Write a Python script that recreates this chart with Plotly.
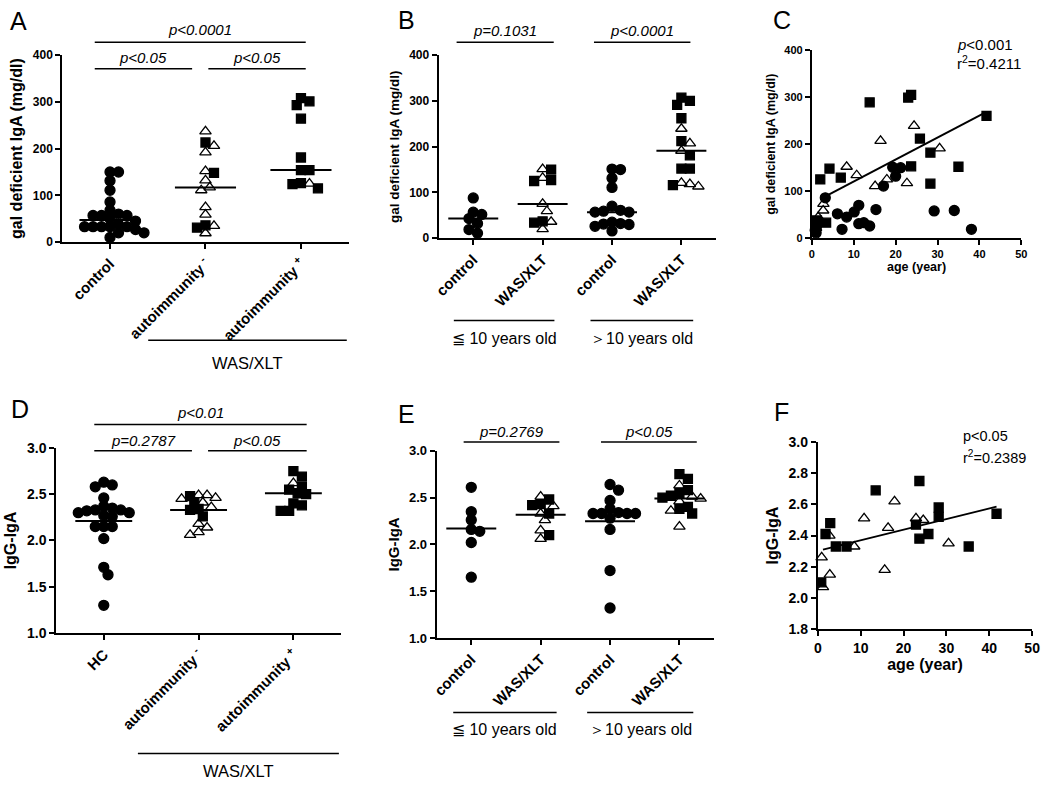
import numpy as np
import plotly.graph_objects as go

W, H = 1050, 789
FONT = "Liberation Sans"

# ---------------- data ----------------
# A: gal deficient IgA (mg/dl)
a_groups = ["control", "autoimmunity <sup>-</sup>", "autoimmunity <sup>+</sup>"]
a_control = [150, 150, 131, 111, 86, 68, 60, 57, 57, 57, 50, 45, 38, 33, 33, 33, 33, 33, 27, 20, 20, 10]
a_neg_tri = [237, 206, 192, 152, 132, 117, 111, 75, 59, 35, 19]
a_neg_sq = [213, 148, 36, 31]
a_pos_tri = [125]
a_pos_sq = [308, 301, 293, 264, 181, 154, 154, 126, 124, 115]

# B: same, split by age
b_groups = ["control", "WAS/XLT", "control", "WAS/XLT"]
b_le10_control = [88, 57, 52, 43, 32, 19, 11]
b_le10_tri = [151, 132, 75, 59, 36, 20]
b_le10_sq = [150, 127, 125, 37, 34]
b_gt10_control = [151, 150, 131, 111, 70, 61, 59, 57, 57, 35, 32, 31, 30, 26, 16]
b_gt10_tri = [239, 207, 191, 121, 118, 113]
b_gt10_sq = [307, 300, 291, 262, 212, 181, 152, 152, 116]

# C: gal deficient IgA vs age
c_ctrl_age = [3.2, 6.1, 8.3, 10.1, 11.2, 11.2, 12.4, 13.8, 15.3, 7.2, 17.1, 19.3, 20.0, 21.2, 29.2, 34.0, 38.1, 1.0, 0.8, 1.1, 0.9, 1.2]
c_ctrl_val = [86, 52, 45, 56, 70, 31, 33, 26, 61, 19, 111, 151, 132, 150, 58, 59, 19, 11, 17, 25, 30, 35]
c_tri_age = [8.3, 10.7, 16.4, 15.1, 17.9, 22.7, 24.4, 30.5, 2.75, 2.7, 1.0, 1.5]
c_tri_val = [152, 134, 207, 111, 125, 117, 239, 191, 73, 59, 22, 45]
c_sq_age = [2.0, 4.2, 6.9, 3.4, 1.2, 1.0, 13.8, 23.0, 23.7, 25.8, 23.7, 28.3, 28.3, 35.0, 41.7]
c_sq_val = [125, 148, 129, 33, 38, 22, 289, 299, 305, 212, 153, 182, 116, 152, 260]
c_fit_from = 3.0

# D: IgG-IgA
d_groups = ["HC", "autoimmunity <sup>-</sup>", "autoimmunity <sup>+</sup>"]
d_hc = [2.63, 2.60, 2.58, 2.46, 2.37, 2.33, 2.32, 2.30, 2.30, 2.33, 2.35, 2.26, 2.27, 2.15, 2.15, 2.15, 2.02, 1.71, 1.63, 1.30]
d_neg_tri = [2.49, 2.45, 2.41, 2.46, 2.49, 2.36, 2.14, 2.06, 2.09, 2.18]
d_neg_sq = [2.48, 2.41, 2.33, 2.26, 2.34]
d_pos_tri = [2.62]
d_pos_sq = [2.75, 2.69, 2.58, 2.55, 2.51, 2.50, 2.40, 2.38, 2.32, 2.32]

# E: IgG-IgA split by age
e_le10_control = [2.61, 2.35, 2.26, 2.16, 2.14, 2.02, 1.65]
e_le10_tri = [2.51, 2.41, 2.33, 2.26, 2.15, 2.06]
e_le10_sq = [2.48, 2.43, 2.42, 2.33, 2.10]
e_gt10_control = [2.64, 2.58, 2.47, 2.38, 2.34, 2.33, 2.33, 2.33, 2.33, 2.28, 2.16, 1.72, 1.32]
e_gt10_tri = [2.63, 2.51, 2.49, 2.46, 2.36, 2.19]
e_gt10_sq = [2.75, 2.70, 2.58, 2.55, 2.52, 2.50, 2.40, 2.38, 2.33]

# F: IgG-IgA vs age
f_sq_age = [1.8, 2.9, 4.2, 6.7, 0.8, 13.5, 23.7, 22.9, 23.7, 25.8, 28.2, 28.2, 35.2, 41.7]
f_sq_val = [2.41, 2.48, 2.33, 2.33, 2.10, 2.69, 2.75, 2.47, 2.38, 2.41, 2.58, 2.52, 2.33, 2.54]
f_tri_age = [0.9, 2.7, 2.8, 1.2, 8.5, 10.8, 16.4, 17.9, 15.6, 22.9, 24.6, 30.5]
f_tri_val = [2.26, 2.40, 2.15, 2.07, 2.33, 2.51, 2.45, 2.62, 2.18, 2.51, 2.50, 2.35]

# ---------------- layout boxes (pixels: x0, x1, ytop, ybottom) ----------------
boxes = {
    1: (58, 348, 48, 239, [-0.5, 2.5], [0, 400]),
    2: (439, 720, 48, 235, [-0.5, 3.5], [0, 400]),
    3: (817, 1029, 43, 235, [0, 50], [0, 400]),
    4: (52, 340, 449, 638, [-0.5, 2.5], [1.0, 3.0]),
    5: (437, 718, 452, 643, [-0.5, 3.5], [1.0, 3.0]),
    6: (823, 1040, 443, 634, [0, 50], [1.8, 3.0]),
}
# per panel font sizes: y ticks, x ticks, axis titles
sizes = {1: (12, 15, 16), 2: (12, 15, 13.5), 3: (11, 11, 12.5),
         4: (14, 15, 16), 5: (13, 15, 15), 6: (14, 14, 16)}


def ppx(n):
    x0, x1, yt, yb, xr, yr = boxes[n]
    return (x1 - x0) / (xr[1] - xr[0]), (yb - yt) / (yr[1] - yr[0])


def to_px_x(n, v):
    x0, x1, yt, yb, xr, yr = boxes[n]
    return x0 + (v - xr[0]) / (xr[1] - xr[0]) * (x1 - x0)


def swarm(vals, n, d=8.6):
    # simple beeswarm: place each point as close to the centre as it fits
    sx, sy = ppx(n)
    vals = np.asarray(vals, float)
    y = vals * sy
    off = np.zeros(len(vals))
    done = []
    for i in np.argsort(-vals, kind="stable"):
        for k in range(80):
            c = ((k + 1) // 2) * d * 0.5 * (1 if k % 2 else -1)
            if all((c - off[j]) ** 2 + (y[i] - y[j]) ** 2 >= (0.88 * d) ** 2 for j in done):
                off[i] = c
                break
        done.append(i)
    return off / sx


fig = go.Figure()
SYM = {"c": ("circle", 10), "t": ("triangle-up-open", 10), "s": ("square", 9)}


def dots(n, xs, ys, kind):
    sym, sz = SYM[kind]
    fig.add_trace(go.Scatter(
        x=xs, y=ys, mode="markers", xaxis=f"x{n}", yaxis=f"y{n}",
        marker=dict(symbol=sym, size=sz, color="black", line=dict(color="black", width=1.3)),
        cliponaxis=False, showlegend=False, hoverinfo="skip"))


def hline(n, xs, ys, width=2):
    fig.add_trace(go.Scatter(
        x=xs, y=ys, mode="lines", xaxis=f"x{n}", yaxis=f"y{n}",
        line=dict(color="black", width=width), cliponaxis=False,
        showlegend=False, hoverinfo="skip"))


def group(n, pos, parts, stat, w):
    vals = [v for _, lst in parts for v in lst]
    kinds = [k for k, lst in parts for _ in lst]
    offs = swarm(vals, n)
    for kind in ("c", "t", "s"):
        idx = [i for i, k in enumerate(kinds) if k == kind]
        if idx:
            dots(n, [pos + offs[i] for i in idx], [vals[i] for i in idx], kind)
    s = np.median(vals) if stat == "median" else np.mean(vals)
    hline(n, [pos - w, pos + w], [s, s])


# A
group(1, 0, [("c", a_control)], "median", 0.32)
group(1, 1, [("t", a_neg_tri), ("s", a_neg_sq)], "median", 0.32)
group(1, 2, [("t", a_pos_tri), ("s", a_pos_sq)], "median", 0.32)
# B
group(2, 0, [("c", b_le10_control)], "median", 0.36)
group(2, 1, [("t", b_le10_tri), ("s", b_le10_sq)], "median", 0.36)
group(2, 2, [("c", b_gt10_control)], "median", 0.36)
group(2, 3, [("t", b_gt10_tri), ("s", b_gt10_sq)], "median", 0.36)
# D
group(4, 0, [("c", d_hc)], "mean", 0.3)
group(4, 1, [("t", d_neg_tri), ("s", d_neg_sq)], "mean", 0.3)
group(4, 2, [("t", d_pos_tri), ("s", d_pos_sq)], "mean", 0.3)
# E
group(5, 0, [("c", e_le10_control)], "mean", 0.36)
group(5, 1, [("t", e_le10_tri), ("s", e_le10_sq)], "mean", 0.36)
group(5, 2, [("c", e_gt10_control)], "mean", 0.36)
group(5, 3, [("t", e_gt10_tri), ("s", e_gt10_sq)], "mean", 0.36)

# C scatter + regression on WAS/XLT patients
dots(3, c_ctrl_age, c_ctrl_val, "c")
dots(3, c_tri_age, c_tri_val, "t")
dots(3, c_sq_age, c_sq_val, "s")
cx = np.array(c_tri_age + c_sq_age)
cy = np.array(c_tri_val + c_sq_val)
k, b = np.polyfit(cx, cy, 1)
lx = np.array([c_fit_from, max(cx)])
hline(3, lx, k * lx + b)

# F scatter + regression
dots(6, f_tri_age, f_tri_val, "t")
dots(6, f_sq_age, f_sq_val, "s")
fx = np.array(f_tri_age + f_sq_age)
fy = np.array(f_tri_val + f_sq_val)
k, b = np.polyfit(fx, fy, 1)
lx = np.array([min(fx) + 0.4, max(fx)])
hline(6, lx, k * lx + b, width=1.8)

# ---------------- axes ----------------
base = dict(showline=True, linecolor="black", linewidth=2, ticks="outside", ticklen=5,
            tickwidth=2, tickcolor="black", showgrid=False, zeroline=False, fixedrange=True)
cat_labels = {1: a_groups, 2: b_groups, 4: d_groups, 5: b_groups}
ytitles = {1: "gal deficient IgA (mg/dl)", 2: "gal deficient IgA (mg/dl)",
           3: "gal deficient IgA (mg/dl)", 4: "IgG-IgA", 5: "IgG-IgA", 6: "IgG-IgA"}
lay = {}
for n, (x0, x1, yt, yb, xr, yr) in boxes.items():
    ys, xs, ts = sizes[n]
    bold = lambda s: dict(family=FONT, size=s, color="black", weight="bold")
    xa = dict(base, domain=[x0 / W, x1 / W], range=xr, anchor=f"y{n}", tickfont=bold(xs))
    if n in cat_labels:
        xa.update(tickmode="array", tickvals=list(range(len(cat_labels[n]))),
                  ticktext=cat_labels[n], tickangle=-45)
    else:
        xa.update(tickmode="linear", tick0=0, dtick=10,
                  title=dict(text="age (year)", font=bold(ts), standoff=2))
    ya = dict(base, domain=[1 - yb / H, 1 - yt / H], range=yr, anchor=f"x{n}",
              tickfont=bold(ys), title=dict(text=ytitles[n], font=bold(ts), standoff=6))
    if yr[1] == 400:
        ya.update(tickmode="linear", tick0=0, dtick=100)
    elif yr[0] == 1.0:
        ya.update(tickmode="linear", tick0=1.0, dtick=0.5, tickformat=".1f")
    else:
        ya.update(tickmode="linear", tick0=1.8, dtick=0.2, tickformat=".1f")
    sfx = "" if n == 1 else str(n)
    lay[f"xaxis{sfx}"] = xa
    lay[f"yaxis{sfx}"] = ya
fig.update_layout(**lay)

# ---------------- decorations ----------------
shapes, annos = [], []


def pline(xa, xb, y, width=1.5):
    shapes.append(dict(type="line", xref="paper", yref="paper", x0=xa / W, x1=xb / W,
                       y0=1 - y / H, y1=1 - y / H, line=dict(color="black", width=width)))


def text(x, y, s, size=15, italic=False, xanchor="center"):
    annos.append(dict(x=x / W, y=1 - y / H, xref="paper", yref="paper", text=s, showarrow=False,
                      xanchor=xanchor, yanchor="middle",
                      font=dict(family=FONT, size=size, color="black",
                                style="italic" if italic else "normal")))


def bracket(n, ca, cb, y, label, ty):
    xa, xb = to_px_x(n, ca), to_px_x(n, cb)
    pline(xa, xb, y)
    text((xa + xb) / 2, ty, label, italic=True)


# A
bracket(1, -0.16, 2.05, 35, "p<0.0001", 22)
bracket(1, -0.16, 0.86, 62, "p<0.05", 51)
bracket(1, 1.03, 2.05, 62, "p<0.05", 51)
xa, xb = to_px_x(1, 0.4), to_px_x(1, 2.48)
pline(xa, xb, 339)
text((xa + xb) / 2, 362, "WAS/XLT", size=16.5)
# B
bracket(2, -0.24, 1.16, 35, "p=0.1031", 23)
bracket(2, 1.74, 3.13, 35, "p<0.0001", 23)
for ca, cb, s in [(-0.28, 1.17, "≦ 10 years old"), (1.69, 3.17, "＞10 years old")]:
    xa, xb = to_px_x(2, ca), to_px_x(2, cb)
    pline(xa, xb, 319)
    text((xa + xb) / 2, 337, s, size=16)
# C
text(962, 37, "<i>p</i><0.001", size=15, xanchor="left")
text(962, 56, "r<sup>2</sup>=0.4211", size=15, xanchor="left")
# D
bracket(4, -0.1, 2.14, 425, "p<0.01", 413)
bracket(4, -0.1, 0.93, 452, "p=0.2787", 441)
bracket(4, 1.1, 2.14, 452, "p<0.05", 441)
xa, xb = to_px_x(4, 0.36), to_px_x(4, 2.48)
pline(xa, xb, 761)
text((xa + xb) / 2, 779, "WAS/XLT", size=16.5)
# E
bracket(5, -0.11, 1.27, 443, "p=0.2769", 432)
bracket(5, 1.87, 3.25, 443, "p<0.05", 432)
for ca, cb, s in [(-0.26, 1.23, "≦ 10 years old"), (1.67, 3.2, "＞10 years old")]:
    xa, xb = to_px_x(5, ca), to_px_x(5, cb)
    pline(xa, xb, 719)
    text((xa + xb) / 2, 736, s, size=16)
# F
text(968, 437, "p<0.05", size=14.5, xanchor="left")
text(968, 458, "r<sup>2</sup>=0.2389", size=14.5, xanchor="left")

# panel letters
for lab, x, y in [("A", 3, 13), ("B", 396, 12), ("C", 776, 12),
                  ("D", 4, 409), ("E", 396, 414), ("F", 777, 412)]:
    text(x, y, lab, size=25, xanchor="left")

fig.update_layout(width=W, height=H, margin=dict(l=0, r=0, t=0, b=0),
                  paper_bgcolor="white", plot_bgcolor="white",
                  shapes=shapes, annotations=annos, showlegend=False)
fig.write_html("out.html", config={"displayModeBar": False},
               post_script="document.body.style.margin='0px';")
